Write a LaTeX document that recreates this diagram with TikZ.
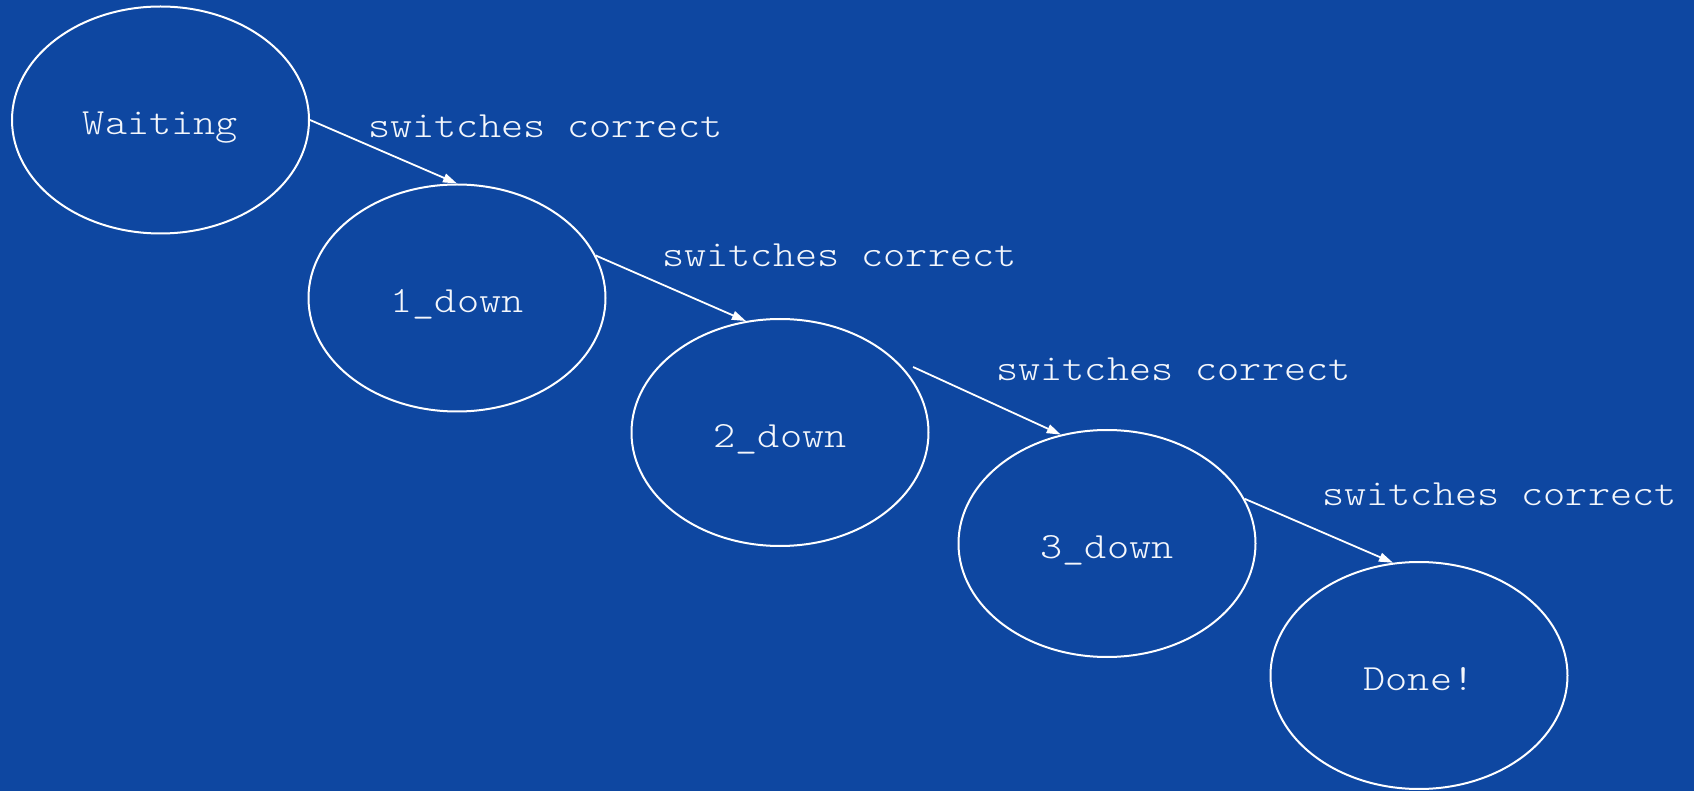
\documentclass[tikz,border=0pt]{standalone}
\usepackage{fontspec}
\setmonofont{Latin Modern Mono Light}[FakeStretch=1.14]
\usetikzlibrary{shapes.geometric,arrows.meta}
\definecolor{boardblue}{HTML}{0E47A1}
\definecolor{chalk}{HTML}{F4F7FC}
\tikzset{
  state/.style={ellipse, draw=white, line width=1pt, inner sep=0pt,
    minimum width=148.5pt, minimum height=113.5pt,
    text=chalk, font=\ttfamily\fontsize{18.5}{22}\selectfont,
    text height=15pt, text depth=0pt},
  move/.style={draw=white, line width=0.9pt,
    -{Triangle[length=7pt,width=4.5pt]}},
  guard/.style={anchor=base west, inner sep=0pt, text=chalk,
    font=\ttfamily\fontsize{18.5}{22}\selectfont}
}
\begin{document}
\begin{tikzpicture}[x=0.5pt,y=-0.5pt]
  \fill[boardblue] (0,0) rectangle (1694,791);
  \useasboundingbox (0,0) rectangle (1694,791);

  % states of the lock sequence
  \node[state] (w)  at (160.5,120) {Waiting};
  \node[state] (d1) at (457,298)   {1\_down};
  \node[state] (d2) at (780,432.5) {2\_down};
  \node[state] (d3) at (1107,543.5) {3\_down};
  \node[state] (ok) at (1419,675.5) {Done!};

  % transitions
  \coordinate (s3) at ([shift={(7,-4)}]d2.26.7);
  \draw[move] (w.east)  -- (d1.north);
  \draw[move] (d1.17.7) -- (d2.107.4);
  \draw[move] (s3)      -- (d3.113.7);
  \draw[move] (d3.18.2) -- (ok.103);

  % transition labels
  \node[guard] (g1) at (368,138)   {switches correct};
  \node[guard] (g2) at (662,266.5) {switches correct};
  \node[guard] (g3) at (996,380.5) {switches correct};
  \node[guard] (g4) at (1322,506)  {switches correct};
\end{tikzpicture}
\end{document}
